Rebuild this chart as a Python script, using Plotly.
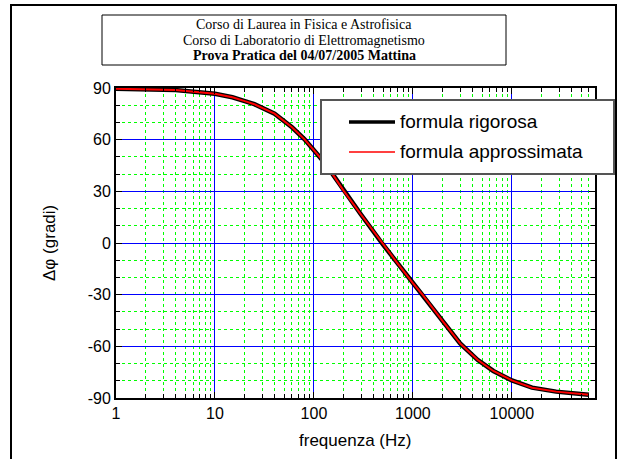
import plotly.graph_objects as go

# ---- data ----
freq = [1, 2, 4, 10, 15, 20, 25, 40, 60, 80, 100, 120, 150, 200, 300, 500, 700,
        1000, 1250, 2000, 3000, 4500, 6500, 10000, 16000, 28000, 60000]
phase_rig = [89.6, 89.3, 88.8, 86.7, 84.6, 82.4, 80.6, 75.1, 67.2, 60.3, 53.8, 48.5,
             41.0, 30.3, 16.4, -1.0, -11.8, -23.3, -30.0, -45.3, -58.3, -67.8, -74.3,
             -79.8, -84.0, -86.3, -88.1]
phase_app = [89.6, 89.3, 88.8, 86.7, 84.6, 82.4, 80.6, 75.1, 67.2, 60.3, 53.8, 48.5,
             41.0, 30.3, 16.4, -1.0, -11.8, -23.3, -30.0, -45.3, -58.3, -67.8, -74.3,
             -79.8, -84.0, -86.3, -88.1]
x_tickvals = [1, 10, 100, 1000, 10000]
x_ticktext = ["1", "10", "100", "1000", "10000"]
y_tickvals = [-90, -60, -30, 0, 30, 60, 90]
y_ticktext = ["-90", "-60", "-30", "0", "30", "60", "90"]
title_lines = ["Corso di Laurea in Fisica e Astrofisica",
               "Corso di Laboratorio di Elettromagnetismo",
               "<b>Prova Pratica del 04/07/2005 Mattina</b>"]
legend_names = ["formula rigorosa", "formula approssimata"]

W, H = 622, 459
ML, MR, MT, MB = 116, 27, 88, 61
PW, PH = W - ML - MR, H - MT - MB


def px(x):
    return (x - ML) / PW


def py(y):
    return (H - MB - y) / PH


SANS = "Liberation Sans, Arial, sans-serif"
SERIF = "Liberation Serif, Times New Roman, serif"

fig = go.Figure()
fig.add_trace(go.Scatter(x=freq, y=phase_rig, mode="lines", name=legend_names[0],
                         line=dict(color="black", width=4.5), showlegend=False))
fig.add_trace(go.Scatter(x=freq, y=phase_app, mode="lines", name=legend_names[1],
                         line=dict(color="#ff0000", width=2), showlegend=False))

axis_common = dict(showline=True, linecolor="black", linewidth=2, mirror="allticks",
                   ticks="inside", ticklen=6, tickwidth=1, tickcolor="black",
                   showgrid=True, gridcolor="#0000ff", gridwidth=1.3, zeroline=False,
                   tickfont=dict(family=SANS, size=16, color="black"))

fig.update_xaxes(type="log", range=[0, 4.84], tickvals=x_tickvals, ticktext=x_ticktext,
                 minor=dict(ticks="inside", ticklen=4, tickcolor="black", dtick="D1",
                            showgrid=True, gridcolor="#00ff00", griddash="dot", gridwidth=1),
                 **axis_common)
fig.update_yaxes(range=[-90, 90], tickvals=y_tickvals, ticktext=y_ticktext,
                 minor=dict(ticks="inside", ticklen=4, tickcolor="black", dtick=10,
                            showgrid=True, gridcolor="#00ff00", griddash="dot", gridwidth=1),
                 **axis_common)

shapes = []
# outer border
shapes.append(dict(type="rect", xref="paper", yref="paper", x0=px(11), x1=px(616),
                   y0=py(470), y1=py(5), line=dict(color="black", width=2), layer="below"))
# title box
shapes.append(dict(type="rect", xref="paper", yref="paper", x0=px(102), x1=px(506),
                   y0=py(65), y1=py(15), line=dict(color="black", width=1)))
# legend box
shapes.append(dict(type="rect", xref="paper", yref="paper", x0=px(321), x1=px(614),
                   y0=py(174), y1=py(100), line=dict(color="#555555", width=2),
                   fillcolor="white", layer="above"))
shapes.append(dict(type="line", xref="paper", yref="paper", x0=px(349), x1=px(395),
                   y0=py(122), y1=py(122), line=dict(color="black", width=3.5), layer="above"))
shapes.append(dict(type="line", xref="paper", yref="paper", x0=px(349), x1=px(395),
                   y0=py(152), y1=py(152), line=dict(color="#ff0000", width=1.5), layer="above"))

annotations = []
for i, t in enumerate(title_lines):
    annotations.append(dict(text=t, xref="paper", yref="paper", x=px(304), y=py(24.5 + 15.5 * i),
                            showarrow=False, xanchor="center", yanchor="middle",
                            font=dict(family=SERIF, size=14, color="black")))
for i, t in enumerate(legend_names):
    annotations.append(dict(text=t, xref="paper", yref="paper", x=px(398), y=py(121 + 30 * i),
                            showarrow=False, xanchor="left", yanchor="middle",
                            font=dict(family=SANS, size=19, color="black")))
annotations.append(dict(text="frequenza (Hz)", xref="paper", yref="paper", x=px(355), y=py(440),
                        showarrow=False, xanchor="center", yanchor="middle",
                        font=dict(family=SANS, size=17, color="black")))
annotations.append(dict(text="Δφ (gradi)", xref="paper", yref="paper", x=px(49), y=py(243),
                        showarrow=False, xanchor="center", yanchor="middle", textangle=-90,
                        font=dict(family=SANS, size=17, color="black")))

fig.update_layout(width=W, height=H, margin=dict(l=ML, r=MR, t=MT, b=MB),
                  paper_bgcolor="white", plot_bgcolor="white", showlegend=False,
                  shapes=shapes, annotations=annotations)

fig.write_html("out.html")
